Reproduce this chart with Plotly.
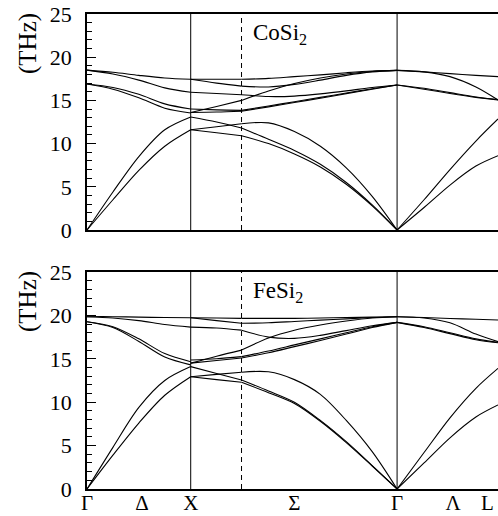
import plotly.graph_objects as go
from plotly.subplots import make_subplots

# ---------------- data (wave-vector positions in units of the Gamma-X length) ----------------
K_DELTA = [0.0, 0.25, 0.5, 0.75, 1.0]          # Gamma -> X
K_XK = [1.0, 1.25, 1.49]                        # X -> K (dashed line)
K_SIGMA = [1.49, 1.75, 2.0, 2.25, 2.5, 2.75, 2.99]  # K -> Gamma
K_LAMBDA = [2.99, 3.25, 3.5, 3.75, 3.963]       # Gamma -> L
K_MAX = 3.963

SYM_X = 1.0
SYM_K = 1.49
SYM_G2 = 2.99

TICK_POS = [0.0, 0.53, 1.0, 2.0, 2.99, 3.53, 3.86]
TICK_TEXT = ["Γ", "Δ", "X", "Σ", "Γ", "Λ", "L"]

Y_TICKS = [0, 5, 10, 15, 20, 25]

# CoSi2 branches (THz)
COSI2_DELTA = [
    [18.5, 18.25, 17.9, 17.6, 17.44],
    [18.5, 18.05, 17.35, 16.45, 15.94],
    [16.9, 16.5, 15.7, 14.6, 14.0],
    [16.9, 16.3, 15.3, 14.1, 13.55],
    [0.0, 4.4, 8.5, 11.6, 13.08],
    [0.0, 3.5, 6.9, 9.7, 11.6],
]
COSI2_XK = [
    [17.44, 17.44, 17.44],
    [17.44, 17.0, 16.65],
    [15.94, 15.8, 15.65],
    [13.6, 14.3, 15.0],
    [14.0, 13.9, 13.85],
    [13.6, 13.65, 13.75],
    [13.08, 12.5, 11.8],
    [11.6, 11.95, 12.3],
    [11.6, 11.25, 10.9],
]
COSI2_SIGMA = [
    [17.44, 17.55, 17.75, 17.95, 18.2, 18.4, 18.48],
    [16.65, 16.55, 16.85, 17.35, 17.9, 18.3, 18.48],
    [15.0, 16.1, 16.95, 17.6, 18.05, 18.35, 18.48],
    [15.65, 15.45, 15.5, 15.75, 16.1, 16.5, 16.78],
    [13.85, 14.35, 14.85, 15.35, 15.85, 16.35, 16.78],
    [13.75, 14.25, 14.75, 15.25, 15.78, 16.3, 16.78],
    [12.3, 12.4, 11.4, 9.7, 7.2, 3.9, 0.0],
    [11.8, 10.5, 9.2, 7.6, 5.5, 2.9, 0.0],
    [10.9, 10.0, 8.8, 7.3, 5.3, 2.8, 0.0],
]
COSI2_LAMBDA = [
    [18.48, 18.3, 18.1, 17.9, 17.75],
    [18.48, 18.3, 17.75, 16.55, 15.05],
    [16.78, 16.4, 15.9, 15.4, 15.1],
    [16.78, 16.3, 15.8, 15.35, 15.05],
    [0.0, 3.5, 7.0, 10.3, 12.85],
    [0.0, 2.6, 5.2, 7.4, 8.6],
]

# FeSi2 branches (THz)
FESI2_DELTA = [
    [19.85, 19.85, 19.8, 19.75, 19.73],
    [19.85, 19.7, 19.4, 18.95, 18.65],
    [19.27, 18.7, 17.3, 15.6, 14.67],
    [19.27, 18.6, 17.0, 15.2, 14.3],
    [0.0, 4.8, 9.4, 12.5, 14.1],
    [0.0, 3.9, 7.6, 10.8, 12.94],
]
FESI2_XK = [
    [19.73, 19.7, 19.66],
    [19.73, 19.4, 19.09],
    [18.65, 18.55, 18.3],
    [14.5, 15.3, 16.0],
    [14.86, 15.0, 15.25],
    [14.5, 14.8, 15.1],
    [14.1, 13.3, 12.55],
    [12.94, 13.2, 13.45],
    [12.94, 12.6, 12.3],
]
FESI2_SIGMA = [
    [19.66, 19.66, 19.66, 19.7, 19.75, 19.8, 19.85],
    [19.09, 19.15, 19.3, 19.45, 19.6, 19.75, 19.85],
    [16.0, 17.4, 18.3, 18.9, 19.35, 19.7, 19.85],
    [18.3, 17.5, 17.35, 17.7, 18.25, 18.8, 19.2],
    [15.25, 15.9, 16.6, 17.3, 18.0, 18.7, 19.2],
    [15.1, 15.7, 16.4, 17.1, 17.85, 18.6, 19.2],
    [13.45, 13.5, 12.6, 10.9, 7.9, 4.3, 0.0],
    [12.55, 11.3, 10.0, 7.9, 5.45, 2.7, 0.0],
    [12.3, 11.1, 9.85, 7.8, 5.35, 2.65, 0.0],
]
FESI2_LAMBDA = [
    [19.85, 19.75, 19.65, 19.55, 19.47],
    [19.85, 19.7, 19.15, 17.85, 16.97],
    [19.2, 18.7, 18.0, 17.3, 16.9],
    [19.2, 18.6, 17.9, 17.2, 16.85],
    [0.0, 4.2, 8.2, 11.6, 13.9],
    [0.0, 3.0, 5.9, 8.3, 9.68],
]

PANELS = [
    ("CoSi<sub>2</sub>", [(K_DELTA, COSI2_DELTA), (K_XK, COSI2_XK),
                          (K_SIGMA, COSI2_SIGMA), (K_LAMBDA, COSI2_LAMBDA)]),
    ("FeSi<sub>2</sub>", [(K_DELTA, FESI2_DELTA), (K_XK, FESI2_XK),
                          (K_SIGMA, FESI2_SIGMA), (K_LAMBDA, FESI2_LAMBDA)]),
]

# ---------------- figure ----------------
W, H = 498, 516
SERIF = "Liberation Serif, Times New Roman, serif"

fig = make_subplots(rows=2, cols=1)

for row, (name, segments) in enumerate(PANELS, start=1):
    for kgrid, branches in segments:
        for freq in branches:
            fig.add_trace(
                go.Scatter(x=kgrid, y=freq, mode="lines",
                           line=dict(color="black", width=1.1, shape="spline", smoothing=0.9),
                           showlegend=False, hoverinfo="skip"),
                row=row, col=1)

# panel geometry in window pixels
x_left = 87
panels_px = [(14, 230), (272, 489)]  # (top, bottom) of each plot area

for i, (top, bot) in enumerate(panels_px, start=1):
    xa = "xaxis" if i == 1 else "xaxis2"
    ya = "yaxis" if i == 1 else "yaxis2"
    xa_kw = dict(
        domain=[x_left / W, 1.0], range=[0, K_MAX], showgrid=False, zeroline=False,
        showline=True, mirror=True, linecolor="black", linewidth=1.6,
        ticks="", automargin=False)
    if i == 2:
        xa_kw.update(tickvals=TICK_POS, ticktext=TICK_TEXT, showticklabels=True,
                     ticklabelstandoff=-6, ticklabeloverflow="allow",
                     tickfont=dict(family=SERIF, size=21, color="black"))
    else:
        xa_kw.update(showticklabels=False)
    fig.layout[xa].update(**xa_kw)
    fig.layout[ya].update(
        domain=[1 - bot / H, 1 - top / H], range=[0, 25], showgrid=False, zeroline=False,
        showline=True, linecolor="black", linewidth=1.6,
        tickvals=Y_TICKS, ticks="inside", ticklen=9, tickwidth=1, tickcolor="black",
        minor=dict(ticks="inside", dtick=1, ticklen=5, tickwidth=1, tickcolor="black"),
        automargin=False, ticklabelstandoff=9, ticklabeloverflow="allow",
        tickfont=dict(family=SERIF, size=22, color="black"))

    xr = "x" if i == 1 else "x2"
    yr = "y domain" if i == 1 else "y2 domain"
    for xpos, dash in [(SYM_X, "solid"), (SYM_K, "5px,4px"), (SYM_G2, "solid")]:
        fig.add_shape(type="line", xref=xr, yref=yr, x0=xpos, x1=xpos, y0=0, y1=1,
                      line=dict(color="black", width=1, dash=dash))

    # panel label
    fig.add_annotation(text=PANELS[i - 1][0], xref="paper", yref="paper",
                       x=251 / W, y=1 - (top + 20) / H, xanchor="left", yanchor="middle",
                       showarrow=False, font=dict(family=SERIF, size=23, color="black"))
    # y-axis title
    fig.add_annotation(text="(THz)", xref="paper", yref="paper",
                       x=28 / W, y=1 - (top + 30) / H, xanchor="center", yanchor="middle",
                       textangle=-90, showarrow=False,
                       font=dict(family=SERIF, size=25, color="black"))

fig.update_layout(
    width=W, height=H, template="none",
    margin=dict(l=0, r=0, t=0, b=0),
    paper_bgcolor="white", plot_bgcolor="white",
    showlegend=False,
)

# remove the browser's default 8px page margin so the figure fills the window
fig.write_html("out.html",
               config={"displayModeBar": False},
               post_script="document.body.style.margin='0px';document.body.style.overflow='hidden';")
